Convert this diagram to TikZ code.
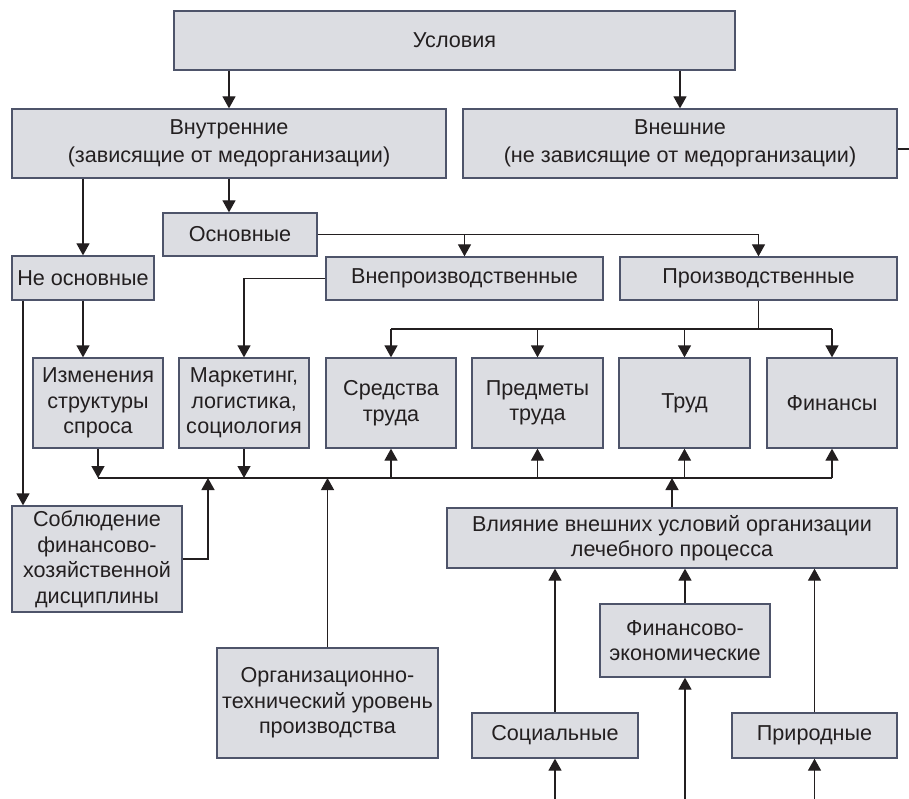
\documentclass[tikz,border=0pt]{standalone}
\usepackage{fontspec}
\setmainfont{Liberation Sans}
\usetikzlibrary{arrows.meta}
\definecolor{boxfill}{HTML}{DCDDE2}
\definecolor{boxline}{HTML}{4E546A}
\definecolor{ink}{HTML}{231F20}
\begin{document}
\begin{tikzpicture}[x=1pt,y=-1pt,
  box/.style={draw=boxline, fill=boxfill, line width=1.3pt, inner sep=0pt, align=center,
    text=ink, font=\fontsize{21.6}{25.5}\selectfont},
  conn/.style={draw=ink, line width=1.3pt},
  arr/.style={conn, -{Triangle[width=13pt,length=12pt]}}]
\useasboundingbox (0,0) rectangle (909,799);
\fill[white] (0,0) rectangle (909,799);
% boxes
\node[box, minimum width=561pt, minimum height=59pt] (usl) at (454.5,40.5) {Условия};
\node[box, minimum width=434pt, minimum height=69pt] (vnut) at (229,143.5) {Внутренние\\[3pt](зависящие от медорганизации)};
\node[box, minimum width=434pt, minimum height=69pt] (vnesh) at (680,143.5) {Внешние\\[3pt](не зависящие от медорганизации)};
\node[box, minimum width=154pt, minimum height=43pt] (osn) at (240,234.5) {Основные};
\node[box, minimum width=142pt, minimum height=44pt] (neosn) at (83,278) {Не основные};
\node[box, minimum width=277pt, minimum height=43pt] (vnepr) at (464.5,278.5) {Внепроизводственные};
\node[box, minimum width=277pt, minimum height=43pt] (proizv) at (758.5,278.5) {Производственные};
\node[box, minimum width=130pt, minimum height=90pt] (izm) at (98,403) {Изменения\\структуры\\спроса};
\node[box, minimum width=130pt, minimum height=90pt] (mark) at (244,403) {Маркетинг,\\логистика,\\социология};
\node[box, minimum width=130pt, minimum height=90pt] (sredst) at (391,403) {Средства\\труда};
\node[box, minimum width=131pt, minimum height=90pt] (predm) at (537.5,403) {Предметы\\труда};
\node[box, minimum width=131pt, minimum height=90pt] (trud) at (684.5,403) {Труд};
\node[box, minimum width=130pt, minimum height=90pt] (fin) at (832,403) {Финансы};
\node[box, minimum width=170pt, minimum height=106pt] (sobl) at (97,559) {Соблюдение\\финансово-\\хозяйственной\\дисциплины};
\node[box, minimum width=221pt, minimum height=110pt] (org) at (327.5,703) {Организационно-\\технический уровень\\производства};
\node[box, minimum width=450pt, minimum height=60pt] (vliy) at (672,538) {Влияние внешних условий организации\\лечебного процесса};
\node[box, minimum width=170pt, minimum height=73pt] (fe) at (685,640.5) {Финансово-\\экономические};
\node[box, minimum width=166pt, minimum height=45pt] (soc) at (555,735.5) {Социальные};
\node[box, minimum width=165pt, minimum height=45pt] (prir) at (814.5,735.5) {Природные};
% helper coordinates
\coordinate (vout) at (909,149);
\coordinate (tb) at (0,329);
\coordinate (bb) at (0,478);
\coordinate (sx) at (208,0);
\coordinate (ox) at (23,0);
\coordinate (bot) at (0,799);
% connectors
\draw[arr] (usl.south -| vnut) -- (vnut.north);
\draw[arr] (usl.south -| vnesh) -- (vnesh.north);
\draw[conn] (vnesh.east |- vout) -- (vout);
\draw[arr] (vnut.south -| neosn) -- (neosn.north);
\draw[arr] (vnut.south) -- (vnut.south |- osn.north);
\draw[arr] (osn.east) -| (proizv.north);
\draw[arr] (osn.east -| vnepr) -- (vnepr.north);
\draw[arr] (vnepr.west) -| (mark.north);
\draw[arr] (neosn.south) -- (neosn.south |- izm.north);
\draw[arr] (ox |- neosn.south) -- (ox |- sobl.north);
% top bus
\draw[conn] (proizv.south) -- (proizv.south |- tb);
\draw[conn] (sredst |- tb) -- (fin |- tb);
\draw[arr] (sredst |- tb) -- (sredst.north);
\draw[arr] (predm |- tb) -- (predm.north);
\draw[arr] (trud |- tb) -- (trud.north);
\draw[arr] (fin |- tb) -- (fin.north);
% bottom bus
\draw[conn] (izm |- bb) -- (fin |- bb);
\draw[arr] (izm.south) -- (izm |- bb);
\draw[arr] (mark.south) -- (mark |- bb);
\draw[arr] (sredst |- bb) -- (sredst.south);
\draw[arr] (predm |- bb) -- (predm.south);
\draw[arr] (trud |- bb) -- (trud.south);
\draw[arr] (fin |- bb) -- (fin.south);
\draw[arr] (sobl.east) -| (sx |- bb);
\draw[arr] (org.north) -- (org.north |- bb);
\draw[arr] (vliy.north) -- (vliy.north |- bb);
% external influences
\draw[arr] (soc.north) -- (soc.north |- vliy.south);
\draw[arr] (fe.north) -- (fe.north |- vliy.south);
\draw[arr] (prir.north) -- (prir.north |- vliy.south);
\draw[arr] (soc |- bot) -- (soc.south);
\draw[arr] (fe |- bot) -- (fe.south);
\draw[arr] (prir |- bot) -- (prir.south);
\end{tikzpicture}
\end{document}
